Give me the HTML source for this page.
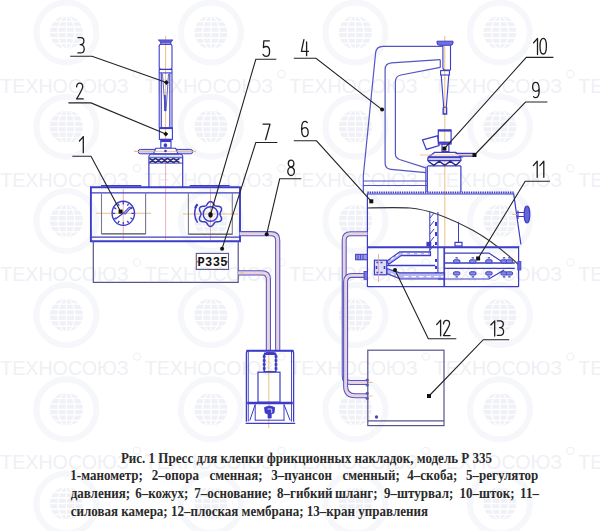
<!DOCTYPE html>
<html><head><meta charset="utf-8">
<style>
html,body{margin:0;padding:0;background:#fff;}
body{width:600px;height:531px;position:relative;overflow:hidden;}
svg{position:absolute;left:0;top:0;}
.w{position:absolute;font-family:"Liberation Serif",serif;font-weight:bold;font-size:13px;color:#2a2a2a;white-space:nowrap;line-height:0;transform:scaleY(1.1);transform-origin:0 0;}
</style></head><body>
<svg width="600" height="531" viewBox="0 0 600 531"><g fill="none"><g><circle cx="66.4" cy="32.5" r="30" stroke="#f6f7fa" stroke-width="6" fill="none"/><circle cx="66.4" cy="32.5" r="16.5" fill="#f0f1f6" stroke="none"/><g stroke="#fff" stroke-width="1.3" fill="none"><ellipse cx="66.4" cy="32.5" rx="8.5" ry="16.5"/><line x1="66.4" y1="15.5" x2="66.4" y2="49.5"/><line x1="49.4" y1="21.5" x2="83.4" y2="21.5"/><line x1="49.4" y1="27.0" x2="83.4" y2="27.0"/><line x1="49.4" y1="32.5" x2="83.4" y2="32.5"/><line x1="49.4" y1="38.0" x2="83.4" y2="38.0"/><line x1="49.4" y1="43.5" x2="83.4" y2="43.5"/></g><text x="0.2" y="92.5" fill="#eff0f5" font-family="Liberation Sans, sans-serif" font-size="20.5" textLength="128.5" lengthAdjust="spacingAndGlyphs">ТЕХНОСОЮЗ</text><circle cx="136.9" cy="74.0" r="3.6" stroke="#eff0f5" stroke-width="1.1" fill="none"/><circle cx="210.9" cy="32.5" r="30" stroke="#f6f7fa" stroke-width="6" fill="none"/><circle cx="210.9" cy="32.5" r="16.5" fill="#f0f1f6" stroke="none"/><g stroke="#fff" stroke-width="1.3" fill="none"><ellipse cx="210.9" cy="32.5" rx="8.5" ry="16.5"/><line x1="210.9" y1="15.5" x2="210.9" y2="49.5"/><line x1="193.9" y1="21.5" x2="227.9" y2="21.5"/><line x1="193.9" y1="27.0" x2="227.9" y2="27.0"/><line x1="193.9" y1="32.5" x2="227.9" y2="32.5"/><line x1="193.9" y1="38.0" x2="227.9" y2="38.0"/><line x1="193.9" y1="43.5" x2="227.9" y2="43.5"/></g><text x="144.7" y="92.5" fill="#eff0f5" font-family="Liberation Sans, sans-serif" font-size="20.5" textLength="128.5" lengthAdjust="spacingAndGlyphs">ТЕХНОСОЮЗ</text><circle cx="281.4" cy="74.0" r="3.6" stroke="#eff0f5" stroke-width="1.1" fill="none"/><circle cx="355.4" cy="32.5" r="30" stroke="#f6f7fa" stroke-width="6" fill="none"/><circle cx="355.4" cy="32.5" r="16.5" fill="#f0f1f6" stroke="none"/><g stroke="#fff" stroke-width="1.3" fill="none"><ellipse cx="355.4" cy="32.5" rx="8.5" ry="16.5"/><line x1="355.4" y1="15.5" x2="355.4" y2="49.5"/><line x1="338.4" y1="21.5" x2="372.4" y2="21.5"/><line x1="338.4" y1="27.0" x2="372.4" y2="27.0"/><line x1="338.4" y1="32.5" x2="372.4" y2="32.5"/><line x1="338.4" y1="38.0" x2="372.4" y2="38.0"/><line x1="338.4" y1="43.5" x2="372.4" y2="43.5"/></g><text x="289.2" y="92.5" fill="#eff0f5" font-family="Liberation Sans, sans-serif" font-size="20.5" textLength="128.5" lengthAdjust="spacingAndGlyphs">ТЕХНОСОЮЗ</text><circle cx="425.9" cy="74.0" r="3.6" stroke="#eff0f5" stroke-width="1.1" fill="none"/><circle cx="499.9" cy="32.5" r="30" stroke="#f6f7fa" stroke-width="6" fill="none"/><circle cx="499.9" cy="32.5" r="16.5" fill="#f0f1f6" stroke="none"/><g stroke="#fff" stroke-width="1.3" fill="none"><ellipse cx="499.9" cy="32.5" rx="8.5" ry="16.5"/><line x1="499.9" y1="15.5" x2="499.9" y2="49.5"/><line x1="482.9" y1="21.5" x2="516.9" y2="21.5"/><line x1="482.9" y1="27.0" x2="516.9" y2="27.0"/><line x1="482.9" y1="32.5" x2="516.9" y2="32.5"/><line x1="482.9" y1="38.0" x2="516.9" y2="38.0"/><line x1="482.9" y1="43.5" x2="516.9" y2="43.5"/></g><text x="433.7" y="92.5" fill="#eff0f5" font-family="Liberation Sans, sans-serif" font-size="20.5" textLength="128.5" lengthAdjust="spacingAndGlyphs">ТЕХНОСОЮЗ</text><circle cx="570.4" cy="74.0" r="3.6" stroke="#eff0f5" stroke-width="1.1" fill="none"/><circle cx="644.4" cy="32.5" r="30" stroke="#f6f7fa" stroke-width="6" fill="none"/><circle cx="644.4" cy="32.5" r="16.5" fill="#f0f1f6" stroke="none"/><g stroke="#fff" stroke-width="1.3" fill="none"><ellipse cx="644.4" cy="32.5" rx="8.5" ry="16.5"/><line x1="644.4" y1="15.5" x2="644.4" y2="49.5"/><line x1="627.4" y1="21.5" x2="661.4" y2="21.5"/><line x1="627.4" y1="27.0" x2="661.4" y2="27.0"/><line x1="627.4" y1="32.5" x2="661.4" y2="32.5"/><line x1="627.4" y1="38.0" x2="661.4" y2="38.0"/><line x1="627.4" y1="43.5" x2="661.4" y2="43.5"/></g><text x="578.2" y="92.5" fill="#eff0f5" font-family="Liberation Sans, sans-serif" font-size="20.5" textLength="128.5" lengthAdjust="spacingAndGlyphs">ТЕХНОСОЮЗ</text><circle cx="714.9" cy="74.0" r="3.6" stroke="#eff0f5" stroke-width="1.1" fill="none"/><circle cx="66.4" cy="126.7" r="30" stroke="#f6f7fa" stroke-width="6" fill="none"/><circle cx="66.4" cy="126.7" r="16.5" fill="#f0f1f6" stroke="none"/><g stroke="#fff" stroke-width="1.3" fill="none"><ellipse cx="66.4" cy="126.7" rx="8.5" ry="16.5"/><line x1="66.4" y1="109.7" x2="66.4" y2="143.7"/><line x1="49.4" y1="115.7" x2="83.4" y2="115.7"/><line x1="49.4" y1="121.2" x2="83.4" y2="121.2"/><line x1="49.4" y1="126.7" x2="83.4" y2="126.7"/><line x1="49.4" y1="132.2" x2="83.4" y2="132.2"/><line x1="49.4" y1="137.7" x2="83.4" y2="137.7"/></g><text x="0.2" y="186.7" fill="#eff0f5" font-family="Liberation Sans, sans-serif" font-size="20.5" textLength="128.5" lengthAdjust="spacingAndGlyphs">ТЕХНОСОЮЗ</text><circle cx="136.9" cy="168.2" r="3.6" stroke="#eff0f5" stroke-width="1.1" fill="none"/><circle cx="210.9" cy="126.7" r="30" stroke="#f6f7fa" stroke-width="6" fill="none"/><circle cx="210.9" cy="126.7" r="16.5" fill="#f0f1f6" stroke="none"/><g stroke="#fff" stroke-width="1.3" fill="none"><ellipse cx="210.9" cy="126.7" rx="8.5" ry="16.5"/><line x1="210.9" y1="109.7" x2="210.9" y2="143.7"/><line x1="193.9" y1="115.7" x2="227.9" y2="115.7"/><line x1="193.9" y1="121.2" x2="227.9" y2="121.2"/><line x1="193.9" y1="126.7" x2="227.9" y2="126.7"/><line x1="193.9" y1="132.2" x2="227.9" y2="132.2"/><line x1="193.9" y1="137.7" x2="227.9" y2="137.7"/></g><text x="144.7" y="186.7" fill="#eff0f5" font-family="Liberation Sans, sans-serif" font-size="20.5" textLength="128.5" lengthAdjust="spacingAndGlyphs">ТЕХНОСОЮЗ</text><circle cx="281.4" cy="168.2" r="3.6" stroke="#eff0f5" stroke-width="1.1" fill="none"/><circle cx="355.4" cy="126.7" r="30" stroke="#f6f7fa" stroke-width="6" fill="none"/><circle cx="355.4" cy="126.7" r="16.5" fill="#f0f1f6" stroke="none"/><g stroke="#fff" stroke-width="1.3" fill="none"><ellipse cx="355.4" cy="126.7" rx="8.5" ry="16.5"/><line x1="355.4" y1="109.7" x2="355.4" y2="143.7"/><line x1="338.4" y1="115.7" x2="372.4" y2="115.7"/><line x1="338.4" y1="121.2" x2="372.4" y2="121.2"/><line x1="338.4" y1="126.7" x2="372.4" y2="126.7"/><line x1="338.4" y1="132.2" x2="372.4" y2="132.2"/><line x1="338.4" y1="137.7" x2="372.4" y2="137.7"/></g><text x="289.2" y="186.7" fill="#eff0f5" font-family="Liberation Sans, sans-serif" font-size="20.5" textLength="128.5" lengthAdjust="spacingAndGlyphs">ТЕХНОСОЮЗ</text><circle cx="425.9" cy="168.2" r="3.6" stroke="#eff0f5" stroke-width="1.1" fill="none"/><circle cx="499.9" cy="126.7" r="30" stroke="#f6f7fa" stroke-width="6" fill="none"/><circle cx="499.9" cy="126.7" r="16.5" fill="#f0f1f6" stroke="none"/><g stroke="#fff" stroke-width="1.3" fill="none"><ellipse cx="499.9" cy="126.7" rx="8.5" ry="16.5"/><line x1="499.9" y1="109.7" x2="499.9" y2="143.7"/><line x1="482.9" y1="115.7" x2="516.9" y2="115.7"/><line x1="482.9" y1="121.2" x2="516.9" y2="121.2"/><line x1="482.9" y1="126.7" x2="516.9" y2="126.7"/><line x1="482.9" y1="132.2" x2="516.9" y2="132.2"/><line x1="482.9" y1="137.7" x2="516.9" y2="137.7"/></g><text x="433.7" y="186.7" fill="#eff0f5" font-family="Liberation Sans, sans-serif" font-size="20.5" textLength="128.5" lengthAdjust="spacingAndGlyphs">ТЕХНОСОЮЗ</text><circle cx="570.4" cy="168.2" r="3.6" stroke="#eff0f5" stroke-width="1.1" fill="none"/><circle cx="644.4" cy="126.7" r="30" stroke="#f6f7fa" stroke-width="6" fill="none"/><circle cx="644.4" cy="126.7" r="16.5" fill="#f0f1f6" stroke="none"/><g stroke="#fff" stroke-width="1.3" fill="none"><ellipse cx="644.4" cy="126.7" rx="8.5" ry="16.5"/><line x1="644.4" y1="109.7" x2="644.4" y2="143.7"/><line x1="627.4" y1="115.7" x2="661.4" y2="115.7"/><line x1="627.4" y1="121.2" x2="661.4" y2="121.2"/><line x1="627.4" y1="126.7" x2="661.4" y2="126.7"/><line x1="627.4" y1="132.2" x2="661.4" y2="132.2"/><line x1="627.4" y1="137.7" x2="661.4" y2="137.7"/></g><text x="578.2" y="186.7" fill="#eff0f5" font-family="Liberation Sans, sans-serif" font-size="20.5" textLength="128.5" lengthAdjust="spacingAndGlyphs">ТЕХНОСОЮЗ</text><circle cx="714.9" cy="168.2" r="3.6" stroke="#eff0f5" stroke-width="1.1" fill="none"/><circle cx="66.4" cy="220.9" r="30" stroke="#f6f7fa" stroke-width="6" fill="none"/><circle cx="66.4" cy="220.9" r="16.5" fill="#f0f1f6" stroke="none"/><g stroke="#fff" stroke-width="1.3" fill="none"><ellipse cx="66.4" cy="220.9" rx="8.5" ry="16.5"/><line x1="66.4" y1="203.9" x2="66.4" y2="237.9"/><line x1="49.4" y1="209.9" x2="83.4" y2="209.9"/><line x1="49.4" y1="215.4" x2="83.4" y2="215.4"/><line x1="49.4" y1="220.9" x2="83.4" y2="220.9"/><line x1="49.4" y1="226.4" x2="83.4" y2="226.4"/><line x1="49.4" y1="231.9" x2="83.4" y2="231.9"/></g><text x="0.2" y="280.9" fill="#eff0f5" font-family="Liberation Sans, sans-serif" font-size="20.5" textLength="128.5" lengthAdjust="spacingAndGlyphs">ТЕХНОСОЮЗ</text><circle cx="136.9" cy="262.4" r="3.6" stroke="#eff0f5" stroke-width="1.1" fill="none"/><circle cx="210.9" cy="220.9" r="30" stroke="#f6f7fa" stroke-width="6" fill="none"/><circle cx="210.9" cy="220.9" r="16.5" fill="#f0f1f6" stroke="none"/><g stroke="#fff" stroke-width="1.3" fill="none"><ellipse cx="210.9" cy="220.9" rx="8.5" ry="16.5"/><line x1="210.9" y1="203.9" x2="210.9" y2="237.9"/><line x1="193.9" y1="209.9" x2="227.9" y2="209.9"/><line x1="193.9" y1="215.4" x2="227.9" y2="215.4"/><line x1="193.9" y1="220.9" x2="227.9" y2="220.9"/><line x1="193.9" y1="226.4" x2="227.9" y2="226.4"/><line x1="193.9" y1="231.9" x2="227.9" y2="231.9"/></g><text x="144.7" y="280.9" fill="#eff0f5" font-family="Liberation Sans, sans-serif" font-size="20.5" textLength="128.5" lengthAdjust="spacingAndGlyphs">ТЕХНОСОЮЗ</text><circle cx="281.4" cy="262.4" r="3.6" stroke="#eff0f5" stroke-width="1.1" fill="none"/><circle cx="355.4" cy="220.9" r="30" stroke="#f6f7fa" stroke-width="6" fill="none"/><circle cx="355.4" cy="220.9" r="16.5" fill="#f0f1f6" stroke="none"/><g stroke="#fff" stroke-width="1.3" fill="none"><ellipse cx="355.4" cy="220.9" rx="8.5" ry="16.5"/><line x1="355.4" y1="203.9" x2="355.4" y2="237.9"/><line x1="338.4" y1="209.9" x2="372.4" y2="209.9"/><line x1="338.4" y1="215.4" x2="372.4" y2="215.4"/><line x1="338.4" y1="220.9" x2="372.4" y2="220.9"/><line x1="338.4" y1="226.4" x2="372.4" y2="226.4"/><line x1="338.4" y1="231.9" x2="372.4" y2="231.9"/></g><text x="289.2" y="280.9" fill="#eff0f5" font-family="Liberation Sans, sans-serif" font-size="20.5" textLength="128.5" lengthAdjust="spacingAndGlyphs">ТЕХНОСОЮЗ</text><circle cx="425.9" cy="262.4" r="3.6" stroke="#eff0f5" stroke-width="1.1" fill="none"/><circle cx="499.9" cy="220.9" r="30" stroke="#f6f7fa" stroke-width="6" fill="none"/><circle cx="499.9" cy="220.9" r="16.5" fill="#f0f1f6" stroke="none"/><g stroke="#fff" stroke-width="1.3" fill="none"><ellipse cx="499.9" cy="220.9" rx="8.5" ry="16.5"/><line x1="499.9" y1="203.9" x2="499.9" y2="237.9"/><line x1="482.9" y1="209.9" x2="516.9" y2="209.9"/><line x1="482.9" y1="215.4" x2="516.9" y2="215.4"/><line x1="482.9" y1="220.9" x2="516.9" y2="220.9"/><line x1="482.9" y1="226.4" x2="516.9" y2="226.4"/><line x1="482.9" y1="231.9" x2="516.9" y2="231.9"/></g><text x="433.7" y="280.9" fill="#eff0f5" font-family="Liberation Sans, sans-serif" font-size="20.5" textLength="128.5" lengthAdjust="spacingAndGlyphs">ТЕХНОСОЮЗ</text><circle cx="570.4" cy="262.4" r="3.6" stroke="#eff0f5" stroke-width="1.1" fill="none"/><circle cx="644.4" cy="220.9" r="30" stroke="#f6f7fa" stroke-width="6" fill="none"/><circle cx="644.4" cy="220.9" r="16.5" fill="#f0f1f6" stroke="none"/><g stroke="#fff" stroke-width="1.3" fill="none"><ellipse cx="644.4" cy="220.9" rx="8.5" ry="16.5"/><line x1="644.4" y1="203.9" x2="644.4" y2="237.9"/><line x1="627.4" y1="209.9" x2="661.4" y2="209.9"/><line x1="627.4" y1="215.4" x2="661.4" y2="215.4"/><line x1="627.4" y1="220.9" x2="661.4" y2="220.9"/><line x1="627.4" y1="226.4" x2="661.4" y2="226.4"/><line x1="627.4" y1="231.9" x2="661.4" y2="231.9"/></g><text x="578.2" y="280.9" fill="#eff0f5" font-family="Liberation Sans, sans-serif" font-size="20.5" textLength="128.5" lengthAdjust="spacingAndGlyphs">ТЕХНОСОЮЗ</text><circle cx="714.9" cy="262.4" r="3.6" stroke="#eff0f5" stroke-width="1.1" fill="none"/><circle cx="66.4" cy="315.1" r="30" stroke="#f6f7fa" stroke-width="6" fill="none"/><circle cx="66.4" cy="315.1" r="16.5" fill="#f0f1f6" stroke="none"/><g stroke="#fff" stroke-width="1.3" fill="none"><ellipse cx="66.4" cy="315.1" rx="8.5" ry="16.5"/><line x1="66.4" y1="298.1" x2="66.4" y2="332.1"/><line x1="49.4" y1="304.1" x2="83.4" y2="304.1"/><line x1="49.4" y1="309.6" x2="83.4" y2="309.6"/><line x1="49.4" y1="315.1" x2="83.4" y2="315.1"/><line x1="49.4" y1="320.6" x2="83.4" y2="320.6"/><line x1="49.4" y1="326.1" x2="83.4" y2="326.1"/></g><text x="0.2" y="375.1" fill="#eff0f5" font-family="Liberation Sans, sans-serif" font-size="20.5" textLength="128.5" lengthAdjust="spacingAndGlyphs">ТЕХНОСОЮЗ</text><circle cx="136.9" cy="356.6" r="3.6" stroke="#eff0f5" stroke-width="1.1" fill="none"/><circle cx="210.9" cy="315.1" r="30" stroke="#f6f7fa" stroke-width="6" fill="none"/><circle cx="210.9" cy="315.1" r="16.5" fill="#f0f1f6" stroke="none"/><g stroke="#fff" stroke-width="1.3" fill="none"><ellipse cx="210.9" cy="315.1" rx="8.5" ry="16.5"/><line x1="210.9" y1="298.1" x2="210.9" y2="332.1"/><line x1="193.9" y1="304.1" x2="227.9" y2="304.1"/><line x1="193.9" y1="309.6" x2="227.9" y2="309.6"/><line x1="193.9" y1="315.1" x2="227.9" y2="315.1"/><line x1="193.9" y1="320.6" x2="227.9" y2="320.6"/><line x1="193.9" y1="326.1" x2="227.9" y2="326.1"/></g><text x="144.7" y="375.1" fill="#eff0f5" font-family="Liberation Sans, sans-serif" font-size="20.5" textLength="128.5" lengthAdjust="spacingAndGlyphs">ТЕХНОСОЮЗ</text><circle cx="281.4" cy="356.6" r="3.6" stroke="#eff0f5" stroke-width="1.1" fill="none"/><circle cx="355.4" cy="315.1" r="30" stroke="#f6f7fa" stroke-width="6" fill="none"/><circle cx="355.4" cy="315.1" r="16.5" fill="#f0f1f6" stroke="none"/><g stroke="#fff" stroke-width="1.3" fill="none"><ellipse cx="355.4" cy="315.1" rx="8.5" ry="16.5"/><line x1="355.4" y1="298.1" x2="355.4" y2="332.1"/><line x1="338.4" y1="304.1" x2="372.4" y2="304.1"/><line x1="338.4" y1="309.6" x2="372.4" y2="309.6"/><line x1="338.4" y1="315.1" x2="372.4" y2="315.1"/><line x1="338.4" y1="320.6" x2="372.4" y2="320.6"/><line x1="338.4" y1="326.1" x2="372.4" y2="326.1"/></g><text x="289.2" y="375.1" fill="#eff0f5" font-family="Liberation Sans, sans-serif" font-size="20.5" textLength="128.5" lengthAdjust="spacingAndGlyphs">ТЕХНОСОЮЗ</text><circle cx="425.9" cy="356.6" r="3.6" stroke="#eff0f5" stroke-width="1.1" fill="none"/><circle cx="499.9" cy="315.1" r="30" stroke="#f6f7fa" stroke-width="6" fill="none"/><circle cx="499.9" cy="315.1" r="16.5" fill="#f0f1f6" stroke="none"/><g stroke="#fff" stroke-width="1.3" fill="none"><ellipse cx="499.9" cy="315.1" rx="8.5" ry="16.5"/><line x1="499.9" y1="298.1" x2="499.9" y2="332.1"/><line x1="482.9" y1="304.1" x2="516.9" y2="304.1"/><line x1="482.9" y1="309.6" x2="516.9" y2="309.6"/><line x1="482.9" y1="315.1" x2="516.9" y2="315.1"/><line x1="482.9" y1="320.6" x2="516.9" y2="320.6"/><line x1="482.9" y1="326.1" x2="516.9" y2="326.1"/></g><text x="433.7" y="375.1" fill="#eff0f5" font-family="Liberation Sans, sans-serif" font-size="20.5" textLength="128.5" lengthAdjust="spacingAndGlyphs">ТЕХНОСОЮЗ</text><circle cx="570.4" cy="356.6" r="3.6" stroke="#eff0f5" stroke-width="1.1" fill="none"/><circle cx="644.4" cy="315.1" r="30" stroke="#f6f7fa" stroke-width="6" fill="none"/><circle cx="644.4" cy="315.1" r="16.5" fill="#f0f1f6" stroke="none"/><g stroke="#fff" stroke-width="1.3" fill="none"><ellipse cx="644.4" cy="315.1" rx="8.5" ry="16.5"/><line x1="644.4" y1="298.1" x2="644.4" y2="332.1"/><line x1="627.4" y1="304.1" x2="661.4" y2="304.1"/><line x1="627.4" y1="309.6" x2="661.4" y2="309.6"/><line x1="627.4" y1="315.1" x2="661.4" y2="315.1"/><line x1="627.4" y1="320.6" x2="661.4" y2="320.6"/><line x1="627.4" y1="326.1" x2="661.4" y2="326.1"/></g><text x="578.2" y="375.1" fill="#eff0f5" font-family="Liberation Sans, sans-serif" font-size="20.5" textLength="128.5" lengthAdjust="spacingAndGlyphs">ТЕХНОСОЮЗ</text><circle cx="714.9" cy="356.6" r="3.6" stroke="#eff0f5" stroke-width="1.1" fill="none"/><circle cx="66.4" cy="409.3" r="30" stroke="#f6f7fa" stroke-width="6" fill="none"/><circle cx="66.4" cy="409.3" r="16.5" fill="#f0f1f6" stroke="none"/><g stroke="#fff" stroke-width="1.3" fill="none"><ellipse cx="66.4" cy="409.3" rx="8.5" ry="16.5"/><line x1="66.4" y1="392.3" x2="66.4" y2="426.3"/><line x1="49.4" y1="398.3" x2="83.4" y2="398.3"/><line x1="49.4" y1="403.8" x2="83.4" y2="403.8"/><line x1="49.4" y1="409.3" x2="83.4" y2="409.3"/><line x1="49.4" y1="414.8" x2="83.4" y2="414.8"/><line x1="49.4" y1="420.3" x2="83.4" y2="420.3"/></g><text x="0.2" y="469.3" fill="#eff0f5" font-family="Liberation Sans, sans-serif" font-size="20.5" textLength="128.5" lengthAdjust="spacingAndGlyphs">ТЕХНОСОЮЗ</text><circle cx="136.9" cy="450.8" r="3.6" stroke="#eff0f5" stroke-width="1.1" fill="none"/><circle cx="210.9" cy="409.3" r="30" stroke="#f6f7fa" stroke-width="6" fill="none"/><circle cx="210.9" cy="409.3" r="16.5" fill="#f0f1f6" stroke="none"/><g stroke="#fff" stroke-width="1.3" fill="none"><ellipse cx="210.9" cy="409.3" rx="8.5" ry="16.5"/><line x1="210.9" y1="392.3" x2="210.9" y2="426.3"/><line x1="193.9" y1="398.3" x2="227.9" y2="398.3"/><line x1="193.9" y1="403.8" x2="227.9" y2="403.8"/><line x1="193.9" y1="409.3" x2="227.9" y2="409.3"/><line x1="193.9" y1="414.8" x2="227.9" y2="414.8"/><line x1="193.9" y1="420.3" x2="227.9" y2="420.3"/></g><text x="144.7" y="469.3" fill="#eff0f5" font-family="Liberation Sans, sans-serif" font-size="20.5" textLength="128.5" lengthAdjust="spacingAndGlyphs">ТЕХНОСОЮЗ</text><circle cx="281.4" cy="450.8" r="3.6" stroke="#eff0f5" stroke-width="1.1" fill="none"/><circle cx="355.4" cy="409.3" r="30" stroke="#f6f7fa" stroke-width="6" fill="none"/><circle cx="355.4" cy="409.3" r="16.5" fill="#f0f1f6" stroke="none"/><g stroke="#fff" stroke-width="1.3" fill="none"><ellipse cx="355.4" cy="409.3" rx="8.5" ry="16.5"/><line x1="355.4" y1="392.3" x2="355.4" y2="426.3"/><line x1="338.4" y1="398.3" x2="372.4" y2="398.3"/><line x1="338.4" y1="403.8" x2="372.4" y2="403.8"/><line x1="338.4" y1="409.3" x2="372.4" y2="409.3"/><line x1="338.4" y1="414.8" x2="372.4" y2="414.8"/><line x1="338.4" y1="420.3" x2="372.4" y2="420.3"/></g><text x="289.2" y="469.3" fill="#eff0f5" font-family="Liberation Sans, sans-serif" font-size="20.5" textLength="128.5" lengthAdjust="spacingAndGlyphs">ТЕХНОСОЮЗ</text><circle cx="425.9" cy="450.8" r="3.6" stroke="#eff0f5" stroke-width="1.1" fill="none"/><circle cx="499.9" cy="409.3" r="30" stroke="#f6f7fa" stroke-width="6" fill="none"/><circle cx="499.9" cy="409.3" r="16.5" fill="#f0f1f6" stroke="none"/><g stroke="#fff" stroke-width="1.3" fill="none"><ellipse cx="499.9" cy="409.3" rx="8.5" ry="16.5"/><line x1="499.9" y1="392.3" x2="499.9" y2="426.3"/><line x1="482.9" y1="398.3" x2="516.9" y2="398.3"/><line x1="482.9" y1="403.8" x2="516.9" y2="403.8"/><line x1="482.9" y1="409.3" x2="516.9" y2="409.3"/><line x1="482.9" y1="414.8" x2="516.9" y2="414.8"/><line x1="482.9" y1="420.3" x2="516.9" y2="420.3"/></g><text x="433.7" y="469.3" fill="#eff0f5" font-family="Liberation Sans, sans-serif" font-size="20.5" textLength="128.5" lengthAdjust="spacingAndGlyphs">ТЕХНОСОЮЗ</text><circle cx="570.4" cy="450.8" r="3.6" stroke="#eff0f5" stroke-width="1.1" fill="none"/><circle cx="644.4" cy="409.3" r="30" stroke="#f6f7fa" stroke-width="6" fill="none"/><circle cx="644.4" cy="409.3" r="16.5" fill="#f0f1f6" stroke="none"/><g stroke="#fff" stroke-width="1.3" fill="none"><ellipse cx="644.4" cy="409.3" rx="8.5" ry="16.5"/><line x1="644.4" y1="392.3" x2="644.4" y2="426.3"/><line x1="627.4" y1="398.3" x2="661.4" y2="398.3"/><line x1="627.4" y1="403.8" x2="661.4" y2="403.8"/><line x1="627.4" y1="409.3" x2="661.4" y2="409.3"/><line x1="627.4" y1="414.8" x2="661.4" y2="414.8"/><line x1="627.4" y1="420.3" x2="661.4" y2="420.3"/></g><text x="578.2" y="469.3" fill="#eff0f5" font-family="Liberation Sans, sans-serif" font-size="20.5" textLength="128.5" lengthAdjust="spacingAndGlyphs">ТЕХНОСОЮЗ</text><circle cx="714.9" cy="450.8" r="3.6" stroke="#eff0f5" stroke-width="1.1" fill="none"/><circle cx="66.4" cy="503.5" r="30" stroke="#f6f7fa" stroke-width="6" fill="none"/><circle cx="66.4" cy="503.5" r="16.5" fill="#f0f1f6" stroke="none"/><g stroke="#fff" stroke-width="1.3" fill="none"><ellipse cx="66.4" cy="503.5" rx="8.5" ry="16.5"/><line x1="66.4" y1="486.5" x2="66.4" y2="520.5"/><line x1="49.4" y1="492.5" x2="83.4" y2="492.5"/><line x1="49.4" y1="498.0" x2="83.4" y2="498.0"/><line x1="49.4" y1="503.5" x2="83.4" y2="503.5"/><line x1="49.4" y1="509.0" x2="83.4" y2="509.0"/><line x1="49.4" y1="514.5" x2="83.4" y2="514.5"/></g><text x="0.2" y="563.5" fill="#eff0f5" font-family="Liberation Sans, sans-serif" font-size="20.5" textLength="128.5" lengthAdjust="spacingAndGlyphs">ТЕХНОСОЮЗ</text><circle cx="136.9" cy="545.0" r="3.6" stroke="#eff0f5" stroke-width="1.1" fill="none"/><circle cx="210.9" cy="503.5" r="30" stroke="#f6f7fa" stroke-width="6" fill="none"/><circle cx="210.9" cy="503.5" r="16.5" fill="#f0f1f6" stroke="none"/><g stroke="#fff" stroke-width="1.3" fill="none"><ellipse cx="210.9" cy="503.5" rx="8.5" ry="16.5"/><line x1="210.9" y1="486.5" x2="210.9" y2="520.5"/><line x1="193.9" y1="492.5" x2="227.9" y2="492.5"/><line x1="193.9" y1="498.0" x2="227.9" y2="498.0"/><line x1="193.9" y1="503.5" x2="227.9" y2="503.5"/><line x1="193.9" y1="509.0" x2="227.9" y2="509.0"/><line x1="193.9" y1="514.5" x2="227.9" y2="514.5"/></g><text x="144.7" y="563.5" fill="#eff0f5" font-family="Liberation Sans, sans-serif" font-size="20.5" textLength="128.5" lengthAdjust="spacingAndGlyphs">ТЕХНОСОЮЗ</text><circle cx="281.4" cy="545.0" r="3.6" stroke="#eff0f5" stroke-width="1.1" fill="none"/><circle cx="355.4" cy="503.5" r="30" stroke="#f6f7fa" stroke-width="6" fill="none"/><circle cx="355.4" cy="503.5" r="16.5" fill="#f0f1f6" stroke="none"/><g stroke="#fff" stroke-width="1.3" fill="none"><ellipse cx="355.4" cy="503.5" rx="8.5" ry="16.5"/><line x1="355.4" y1="486.5" x2="355.4" y2="520.5"/><line x1="338.4" y1="492.5" x2="372.4" y2="492.5"/><line x1="338.4" y1="498.0" x2="372.4" y2="498.0"/><line x1="338.4" y1="503.5" x2="372.4" y2="503.5"/><line x1="338.4" y1="509.0" x2="372.4" y2="509.0"/><line x1="338.4" y1="514.5" x2="372.4" y2="514.5"/></g><text x="289.2" y="563.5" fill="#eff0f5" font-family="Liberation Sans, sans-serif" font-size="20.5" textLength="128.5" lengthAdjust="spacingAndGlyphs">ТЕХНОСОЮЗ</text><circle cx="425.9" cy="545.0" r="3.6" stroke="#eff0f5" stroke-width="1.1" fill="none"/><circle cx="499.9" cy="503.5" r="30" stroke="#f6f7fa" stroke-width="6" fill="none"/><circle cx="499.9" cy="503.5" r="16.5" fill="#f0f1f6" stroke="none"/><g stroke="#fff" stroke-width="1.3" fill="none"><ellipse cx="499.9" cy="503.5" rx="8.5" ry="16.5"/><line x1="499.9" y1="486.5" x2="499.9" y2="520.5"/><line x1="482.9" y1="492.5" x2="516.9" y2="492.5"/><line x1="482.9" y1="498.0" x2="516.9" y2="498.0"/><line x1="482.9" y1="503.5" x2="516.9" y2="503.5"/><line x1="482.9" y1="509.0" x2="516.9" y2="509.0"/><line x1="482.9" y1="514.5" x2="516.9" y2="514.5"/></g><text x="433.7" y="563.5" fill="#eff0f5" font-family="Liberation Sans, sans-serif" font-size="20.5" textLength="128.5" lengthAdjust="spacingAndGlyphs">ТЕХНОСОЮЗ</text><circle cx="570.4" cy="545.0" r="3.6" stroke="#eff0f5" stroke-width="1.1" fill="none"/><circle cx="644.4" cy="503.5" r="30" stroke="#f6f7fa" stroke-width="6" fill="none"/><circle cx="644.4" cy="503.5" r="16.5" fill="#f0f1f6" stroke="none"/><g stroke="#fff" stroke-width="1.3" fill="none"><ellipse cx="644.4" cy="503.5" rx="8.5" ry="16.5"/><line x1="644.4" y1="486.5" x2="644.4" y2="520.5"/><line x1="627.4" y1="492.5" x2="661.4" y2="492.5"/><line x1="627.4" y1="498.0" x2="661.4" y2="498.0"/><line x1="627.4" y1="503.5" x2="661.4" y2="503.5"/><line x1="627.4" y1="509.0" x2="661.4" y2="509.0"/><line x1="627.4" y1="514.5" x2="661.4" y2="514.5"/></g><text x="578.2" y="563.5" fill="#eff0f5" font-family="Liberation Sans, sans-serif" font-size="20.5" textLength="128.5" lengthAdjust="spacingAndGlyphs">ТЕХНОСОЮЗ</text><circle cx="714.9" cy="545.0" r="3.6" stroke="#eff0f5" stroke-width="1.1" fill="none"/></g><g stroke="#eab878" stroke-width="0.9"><line x1="165.6" y1="36" x2="165.6" y2="140"/><line x1="134" y1="151.2" x2="196" y2="151.2"/><line x1="96" y1="213.3" x2="151" y2="213.3"/><line x1="183" y1="214" x2="238" y2="214"/><line x1="268.8" y1="280" x2="268.8" y2="428"/></g><g stroke="#e2a0a0" stroke-width="0.8"><line x1="165.6" y1="155" x2="165.6" y2="240"/><line x1="123.3" y1="189" x2="123.3" y2="240"/><line x1="210.5" y1="189" x2="210.5" y2="240"/></g><g stroke="#3c3cc8" stroke-width="1.1"><rect x="159.2" y="44.2" width="12.8" height="25" rx="2"/><line x1="159.2" y1="69.5" x2="172" y2="69.5"/><line x1="159.2" y1="72.9" x2="172" y2="72.9"/><line x1="159.2" y1="69" x2="159.2" y2="127.5"/><line x1="172" y1="69" x2="172" y2="127.5"/><line x1="161.3" y1="73" x2="161.3" y2="127.5" stroke="#5454c4" stroke-width="1.3"/><line x1="169.8" y1="73" x2="169.8" y2="127.5" stroke="#5454c4" stroke-width="1.3"/><path d="M162.5 74 L165.2 111 L166 111 L168.5 74" stroke="#5454c4" stroke-width="0.9"/><path d="M165 95 V111" stroke="#3c3cc8" stroke-width="1.6"/><rect x="160.8" y="41.8" width="10" height="2.4"/></g><path d="M158.4 40 H172.8 L170.5 42.2 H160.8 Z" fill="#6c6ce0" stroke="#3c3cc8" stroke-width="1"/><g stroke="#3c3cc8" stroke-width="1.1"><rect x="159.4" y="127.8" width="13" height="11.6"/><line x1="159.4" y1="128.2" x2="172.4" y2="128.2" stroke-width="1.8"/><rect x="160.8" y="139.4" width="10.2" height="8.6"/><line x1="160.8" y1="141" x2="171" y2="141" stroke-width="2.2"/><circle cx="165.4" cy="145.2" r="1.3" fill="#3c3cc8"/></g><rect x="138.2" y="149.4" width="54.5" height="4.4" rx="2.2" fill="#d4d4f2" stroke="#3c3cc8" stroke-width="1"/><line x1="134" y1="151.6" x2="196" y2="151.6" stroke="#eab878" stroke-width="0.8"/><path d="M155.8 148.3 H175.6 L178 153.9 H153.5 Z" fill="#fff" stroke="#3c3cc8" stroke-width="1.1"/><line x1="154" y1="151.3" x2="177.5" y2="151.3" stroke="#eab878" stroke-width="0.8"/><circle cx="165.5" cy="151" r="1.3" fill="#3c3cc8"/><g stroke="#3c3cc8" stroke-width="1.2"><path d="M148.9 187 V157 Q148.9 154 152 154 H179.5 Q182.7 154 182.7 157 V187"/><rect x="149.5" y="155.6" width="32.6" height="1.8" fill="#c4d4f4" stroke="none"/><line x1="149" y1="157.8" x2="182.7" y2="157.8" stroke-width="1"/><line x1="149" y1="163.1" x2="182.7" y2="163.1" stroke-width="1"/></g><path d="M149.5 158.3 L155.5 162.6 M155.5 158.3 L149.5 162.6 M155.5 158.3 L161.5 162.6 M161.5 158.3 L155.5 162.6 M161.5 158.3 L167.5 162.6 M167.5 158.3 L161.5 162.6 M167.5 158.3 L173.5 162.6 M173.5 158.3 L167.5 162.6 M173.5 158.3 L179.5 162.6 M179.5 158.3 L173.5 162.6" stroke="#2a2a70" stroke-width="1.5"/><g stroke="#3c3cc8"><path d="M90.9 241.2 V187.2 H240 V241.2 Z" stroke-width="1.9"/><line x1="91" y1="192.9" x2="240" y2="192.9" stroke-width="1.3"/><line x1="91" y1="237.1" x2="240" y2="237.1" stroke-width="1.2"/><line x1="101" y1="185.7" x2="141.3" y2="185.7" stroke-width="1.2"/><line x1="189.7" y1="185.7" x2="229.7" y2="185.7" stroke-width="1.2"/></g><g stroke="#7a7a90" stroke-width="1.1"><path d="M101.5 193.3 V233.8 H145.6 V193.3"/><path d="M188.4 193.3 V234.3 H232.3 V193.3"/></g><line x1="101.5" y1="233.8" x2="145.6" y2="233.8" stroke="#777" stroke-width="1.6"/><line x1="188.4" y1="234.3" x2="232.3" y2="234.3" stroke="#777" stroke-width="1.6"/><g stroke="#3c3cc8"><ellipse cx="123.3" cy="213.3" rx="11.2" ry="12.1" stroke-width="1.4"/><path d="M123.30 204.50 L123.30 202.00 M127.40 205.68 L128.60 203.51 M130.40 208.90 L132.48 207.65 M131.50 213.30 L133.90 213.30 M130.40 217.70 L132.48 218.95 M127.40 220.92 L128.60 223.09 M123.30 222.10 L123.30 224.60 M119.20 220.92 L118.00 223.09 M116.20 217.70 L114.12 218.95 M115.10 213.30 L112.70 213.30 M116.20 208.90 L114.12 207.65 M119.20 205.68 L118.00 203.51" stroke-width="1.25"/><path d="M115.2 219.2 L123.5 213" stroke-width="1.3"/><path d="M123.5 213 L129 207.2 L131.6 207.3 L125.2 214.3 Z" stroke-width="1" fill="#9a9ae6"/></g><g stroke="#3c3cc8"><path d="M210.50 201.60 L211.30 201.74 L212.06 202.14 L212.74 202.75 L213.32 203.47 L213.82 204.22 L214.27 204.91 L214.71 205.47 L215.20 205.86 L215.79 206.09 L216.49 206.19 L217.31 206.24 L218.21 206.29 L219.13 206.43 L219.99 206.72 L220.72 207.17 L221.24 207.80 L221.52 208.57 L221.55 209.42 L221.37 210.31 L221.03 211.18 L220.63 211.99 L220.26 212.72 L219.99 213.38 L219.90 214.00 L219.99 214.62 L220.26 215.28 L220.63 216.01 L221.03 216.82 L221.37 217.69 L221.55 218.58 L221.52 219.43 L221.24 220.20 L220.72 220.83 L219.99 221.28 L219.13 221.57 L218.21 221.71 L217.31 221.76 L216.49 221.81 L215.79 221.91 L215.20 222.14 L214.71 222.53 L214.27 223.09 L213.82 223.78 L213.32 224.53 L212.74 225.25 L212.06 225.86 L211.30 226.26 L210.50 226.40 L209.70 226.26 L208.94 225.86 L208.26 225.25 L207.68 224.53 L207.18 223.78 L206.73 223.09 L206.29 222.53 L205.80 222.14 L205.21 221.91 L204.51 221.81 L203.69 221.76 L202.79 221.71 L201.87 221.57 L201.01 221.28 L200.28 220.83 L199.76 220.20 L199.48 219.43 L199.45 218.58 L199.63 217.69 L199.97 216.82 L200.37 216.01 L200.74 215.28 L201.01 214.62 L201.10 214.00 L201.01 213.38 L200.74 212.72 L200.37 211.99 L199.97 211.18 L199.63 210.31 L199.45 209.42 L199.48 208.57 L199.76 207.80 L200.28 207.17 L201.01 206.72 L201.87 206.43 L202.79 206.29 L203.69 206.24 L204.51 206.19 L205.21 206.09 L205.80 205.86 L206.29 205.47 L206.73 204.91 L207.18 204.22 L207.68 203.47 L208.26 202.75 L208.94 202.14 L209.70 201.74Z" stroke-width="1.5"/><circle cx="210.5" cy="214" r="7.3" stroke-width="1.5"/><path d="M197.2 204.6 C193.6 210 193.8 217.5 197.6 222.6" stroke-width="1.5"/><path d="M197.6 204.3 C196.4 205.5 195.7 206.8 195.2 208.2" stroke-width="2.3"/></g><path d="M93.3 241.2 V282.4 H238.2 V241.2" stroke="#55558c" stroke-width="1.2"/><rect x="196.3" y="253.4" width="32.2" height="16" stroke="#5a5a8a" stroke-width="1.1"/><path d="M197 261.7 H199.5 M226 261.7 H228" stroke="#e09090" stroke-width="2"/><text x="212.7" y="265.8" font-family="Liberation Mono, monospace" font-weight="bold" font-size="12" fill="#111" text-anchor="middle" letter-spacing="0.4">P335</text><path d="M239.6 233.7 H271 Q277.7 233.7 277.7 240.4 V351" stroke="#5454c4" stroke-width="5.2"/><path d="M239.6 233.7 H271 Q277.7 233.7 277.7 240.4 V351" stroke="#e9d3dd" stroke-width="3.1"/><path d="M238.2 272.9 H262 Q268.4 272.9 268.4 279.3 V351" stroke="#5454c4" stroke-width="5.2"/><path d="M238.2 272.9 H262 Q268.4 272.9 268.4 279.3 V351" stroke="#e9d3dd" stroke-width="3.1"/><path d="M240 272.9 H244" stroke="#eab878" stroke-width="0.9"/><g stroke="#3c3cc8" stroke-width="1.2"><path d="M246.4 421.8 V353 Q246.4 350.6 249 350.6 H291 Q293.6 350.6 293.6 353 V421.8" stroke-width="1.3"/><line x1="246.4" y1="350.8" x2="293.6" y2="350.8" stroke-width="1.9"/><line x1="248.3" y1="351" x2="248.3" y2="421.5" stroke-width="0.9"/><line x1="291.5" y1="351" x2="291.5" y2="421.5" stroke-width="0.9"/><rect x="258" y="372.2" width="22" height="30"/><path d="M264.4 353 V371.8 M275.8 353 V371.8 M266 352.6 H274.5" stroke-width="1"/></g><rect x="264" y="354.5" width="12" height="17" stroke="#3c3cc8" stroke-width="1" fill="none"/><path d="M262.8 356.5 h2.8 M262.8 360.5 h2.8 M262.8 364.5 h2.8 M262.8 368.5 h2.8 M274.6 356.5 h2.8 M274.6 360.5 h2.8 M274.6 364.5 h2.8 M274.6 368.5 h2.8" stroke="#3c3cc8" stroke-width="2.6"/><path d="M264 353.5 H276" stroke="#3c3cc8" stroke-width="2"/><line x1="247.2" y1="403" x2="292.8" y2="403" stroke="#3c3cc8" stroke-width="2.6"/><g stroke="#3c3cc8" stroke-width="1"><path d="M249.8 420.5 L255.2 404.5 M255.2 404.5 V420.5 M290.2 420.5 L284 404.5 M284 404.5 V420.5"/><line x1="255" y1="420.2" x2="284.5" y2="420.2"/><line x1="245.6" y1="423.4" x2="295.2" y2="423.4" stroke-width="1.2"/></g><path d="M264.5 407.5 Q269.6 404.5 274.7 407.5 L274 413 L271.2 414 V418 H268 V414 L265.2 413 Z" fill="#3c3cc8" stroke="#3c3cc8" stroke-width="0.8"/><path d="M267.5 409 H271.7 V413" stroke="#fff" stroke-width="0.8"/><line x1="444.8" y1="36" x2="444.8" y2="287" stroke="#eab878" stroke-width="0.9"/><g stroke="#5454c4" stroke-width="1.2"><path d="M442.9 46.4 H383 Q376.2 46.4 375.6 53 L363.3 176 V193"/><path d="M440.3 59.7 L391.5 62.8 Q385.1 63.3 385.1 69.5 V163 Q385.1 169 391 169.3 L425.8 172.7"/><path d="M440.3 67.4 L401 75 Q395.4 76 395.4 82 V154 Q395.4 158 399.5 159.5 L425.8 167.9"/><path d="M440.3 59.7 V67.4"/><line x1="425.8" y1="166.7" x2="425.8" y2="192"/><line x1="363.3" y1="181" x2="427" y2="181"/><line x1="363.3" y1="185.5" x2="427" y2="185.5"/></g><g stroke="#3c3cc8" stroke-width="1.1"><path d="M442.9 45.3 V67.5 Q442.9 70 445 70 H450.5 V45.3"/><rect x="440.6" y="70.6" width="8.8" height="4.4"/><path d="M441.2 75 L443.7 107.2 H446.3 L448.8 75"/><path d="M443.2 107.2 V114 H446.6 V107.2" stroke-width="1.4"/></g><path d="M437 41.2 H453 V43 Q453 45.3 450 45.3 H440 Q437 45.3 437 43 Z" fill="#7070e0" stroke="#3c3cc8" stroke-width="1"/><g stroke="#3c3cc8" stroke-width="1.2"><rect x="438.3" y="130" width="12.8" height="14"/><line x1="438.3" y1="130.6" x2="451.1" y2="130.6" stroke-width="2"/><line x1="438.3" y1="142.6" x2="451.1" y2="142.6" stroke-width="2"/><path d="M422.5 139.8 L437.6 135.8 L439.1 145.6 L426.3 149.4 Z"/><rect x="442" y="144.1" width="6.9" height="7.5"/><path d="M434.6 152.4 H455.6 L461.7 156.9 H428.5 Z" fill="#fff"/><path d="M455.6 153.3 H474.5 V156.1 H459" fill="#d8d8f4"/><path d="M427.8 160.7 V158.8 Q427.8 157.4 429.5 157.4 H459.2 Q460.9 157.4 460.9 158.8 V160.7 Z" fill="#c8c8f0"/><line x1="427.8" y1="165.9" x2="460.9" y2="165.9"/><line x1="427.3" y1="165.9" x2="427.3" y2="192"/><line x1="460.9" y1="165.9" x2="460.9" y2="192"/></g><line x1="420" y1="155" x2="476" y2="155" stroke="#eab878" stroke-width="0.8"/><path d="M428.3 161.2 L433.8 165.3 L439.3 161.2 L444.8 165.3 L450.3 161.2 L455.8 165.3 L460.4 161.2" stroke="#2a2a80" stroke-width="1.4"/><g stroke="#3c3cc8" stroke-width="1.2"><path d="M367.4 287 V193.3"/><path d="M513.6 193.3 L520.9 244.5"/><line x1="367.4" y1="194" x2="513.6" y2="194" stroke-width="1"/></g><line x1="367.4" y1="192.6" x2="513.6" y2="192.6" stroke="#3c3cc8" stroke-width="2" stroke-dasharray="1.4 0.9"/><path d="M367.4 208 C385 207.6 398 207.2 410 208 C430 209.5 450 218 473.7 230.8 C490 240 505 252 519 265" stroke="#333" stroke-width="1.1"/><g stroke="#3c3cc8" stroke-width="1.2"><line x1="367.4" y1="247.2" x2="518.6" y2="247.2" stroke-width="2"/><line x1="518.6" y1="246" x2="518.6" y2="287"/><line x1="367.4" y1="286.6" x2="518.6" y2="286.6"/></g><g stroke="#3c3cc8" stroke-width="1.1"><path d="M429.8 212 V256 M437.9 212 V278 M444.2 247 V286"/><path d="M430 218 L434 213 M430 226 L434 221 M430 234 L434 229 M430 242 L434 237 M430 250 L434 245" stroke-width="1"/><rect x="427" y="242.4" width="3.7" height="3.6" fill="#3c3cc8"/></g><path d="M436 222 v4 M436 232 v4 M436 242 v3 M436 259 v3 M436 266 v3 M436 272 v3" stroke="#3c3cc8" stroke-width="2"/><path d="M386.7 261.2 L399.8 251.8 H430.5 V255.6 H401.2 L388.5 264.4 Z" fill="#b8b8ee" stroke="#3c3cc8" stroke-width="1.2"/><path d="M386.7 268.5 L399.8 272.8 H444.5 V279 H400.5 L386.7 273.5 Z" fill="#b8b8ee" stroke="#3c3cc8" stroke-width="1.2"/><path d="M403 253.7 h4 M410 253.7 h4 M417 253.7 h4 M424 253.7 h4 M404 276.6 h4.5 M411.5 276.6 h4.5 M419 276.6 h4.5 M426.5 276.6 h4.5 M434 276.6 h4.5 M441 276.6 h3" stroke="#fff" stroke-width="1.3"/><path d="M391 259.5 l3 -2.2 M396 256.2 l2.5 -1.8 M391 273.5 l3 1.2 M396 275.6 l2.5 1" stroke="#fff" stroke-width="1.1"/><line x1="386.7" y1="265.5" x2="435.2" y2="265.5" stroke="#3c3cc8" stroke-width="1.6"/><g stroke="#3c3cc8" stroke-width="1.2"><rect x="374.4" y="260.2" width="12.3" height="14.6" fill="#dcdcf6"/><path d="M376.5 262.5 h2 M380.5 262.5 h2 M376.5 272.5 h2 M380.5 272.5 h2 M376.5 266 v3 M384.5 266 v3" stroke-width="1.6"/></g><line x1="378.5" y1="254" x2="378.5" y2="282" stroke="#e2a0a0" stroke-width="0.8"/><g stroke="#3c3cc8" stroke-width="1.2"><path d="M445 253.1 H488.9 L504 263"/><path d="M437.9 279 H488.9 L504 270"/><line x1="444" y1="263" x2="514.8" y2="263" stroke-width="1.3"/><line x1="444" y1="268.3" x2="514.8" y2="268.3" stroke-width="1.3"/><line x1="444.2" y1="248" x2="444.2" y2="286"/><line x1="458.5" y1="221.8" x2="458.5" y2="242.4" stroke-width="1"/><rect x="455" y="242.4" width="7" height="3.6"/></g><g fill="#8c8ce0" stroke="#3c3cc8" stroke-width="1"><rect x="453.5" y="259.8" width="6.4" height="3.2" rx="1.2"/><rect x="453.5" y="271.8" width="6.4" height="3.2" rx="1.2"/><path d="M455.5 257.8 h2.4 M455.5 276.8 h2.4" stroke-width="1.2"/><rect x="469.6" y="259.8" width="6.4" height="3.2" rx="1.2"/><rect x="469.6" y="271.8" width="6.4" height="3.2" rx="1.2"/><path d="M471.6 257.8 h2.4 M471.6 276.8 h2.4" stroke-width="1.2"/><rect x="485.7" y="259.8" width="6.4" height="3.2" rx="1.2"/><rect x="485.7" y="271.8" width="6.4" height="3.2" rx="1.2"/><path d="M487.7 257.8 h2.4 M487.7 276.8 h2.4" stroke-width="1.2"/><rect x="500.9" y="259.8" width="6.4" height="3.2" rx="1.2"/><rect x="500.9" y="271.8" width="6.4" height="3.2" rx="1.2"/><path d="M502.9 257.8 h2.4 M502.9 276.8 h2.4" stroke-width="1.2"/><rect x="506.2" y="259.8" width="6.4" height="3.2" rx="1.2"/><rect x="506.2" y="271.8" width="6.4" height="3.2" rx="1.2"/><path d="M508.2 257.8 h2.4 M508.2 276.8 h2.4" stroke-width="1.2"/></g><rect x="517.8" y="261.6" width="3.1" height="8.4" fill="#6a6ad8" stroke="#3c3cc8" stroke-width="0.8"/><g stroke="#3c3cc8" stroke-width="1.2"><path d="M516.7 212.5 H524 M516.7 216.5 H524 M518 210.5 V219"/><ellipse cx="527" cy="214.5" rx="2.8" ry="8.5" fill="#6666d8"/></g><line x1="512" y1="214.5" x2="517" y2="214.5" stroke="#eab878" stroke-width="0.8"/><rect x="355.6" y="254.3" width="11.8" height="5.5" fill="#9999e0" stroke="#3c3cc8" stroke-width="1"/><path d="M358 254.3 v5.5 M360.5 254.3 v5.5 M363 254.3 v5.5" stroke="#3c3cc8" stroke-width="0.8"/><path d="M367.4 233.7 H350.5 Q344.2 233.7 344.2 240 V376 Q344.2 382.5 350.7 382.5 H367.8" stroke="#5454c4" stroke-width="5.0"/><path d="M367.4 233.7 H350.5 Q344.2 233.7 344.2 240 V376 Q344.2 382.5 350.7 382.5 H367.8" stroke="#e9d3dd" stroke-width="2.9"/><path d="M367.4 275.4 H352 Q345.6 275.4 345.6 282 V386 Q345.6 395.8 355 395.8 H367.8" stroke="#5454c4" stroke-width="5.0"/><path d="M367.4 275.4 H352 Q345.6 275.4 345.6 282 V386 Q345.6 395.8 355 395.8 H367.8" stroke="#e9d3dd" stroke-width="2.9"/><rect x="364" y="271.5" width="3.4" height="7.8" fill="#7777dd" stroke="#3c3cc8" stroke-width="0.8"/><g fill="#5a5ad0"><circle cx="367.2" cy="380" r="1.6"/><circle cx="367.2" cy="385" r="1.6"/><circle cx="367.2" cy="393.3" r="1.6"/><circle cx="367.2" cy="398.3" r="1.6"/></g><path d="M368 382.5 H372.5 M368 396 H372.5" stroke="#eab878" stroke-width="0.9"/><g stroke="#55558c" stroke-width="1.2"><rect x="367.8" y="350.2" width="76.2" height="75.4"/><line x1="367.8" y1="420.8" x2="444" y2="420.8"/></g><circle cx="376.5" cy="417" r="1.7" fill="#4848c0"/><g stroke="#222" stroke-width="1.1"><path d="M70.2 56.3 H92 L166.4 82.5"/><path d="M68.4 102.9 H91 L165.8 134"/><path d="M72.3 156.3 H91 L120.6 211.6"/><path d="M276.3 59.3 H255.8 L210.5 214.5"/><path d="M293.8 58.3 H316 L382.1 109.6"/><path d="M277.4 142.5 H255.8 L222.1 248.7"/><path d="M293.8 140.8 H316.5 L371.3 201.3"/><path d="M301.3 178.8 H279.7 L266.7 234.2"/><path d="M553.4 57.4 H526.3 L444.4 148.6"/><path d="M547.4 102 H525.5 L474.5 155"/><path d="M550 181.3 H525.2 L478.1 258.5"/><path d="M456.3 338.7 H428.3 L395 270"/><path d="M509.2 339.7 H483.3 L429 396"/></g><g fill="#111"><path d="M166.4 79.9 L168.8 82.5 L166.4 85.1 L164.0 82.5 Z"/><path d="M165.8 131.4 L168.20000000000002 134 L165.8 136.6 L163.4 134 Z"/><rect x="118.6" y="209.6" width="4" height="4"/><ellipse cx="210.5" cy="214.8" rx="2.2" ry="2.8"/><circle cx="382.1" cy="109.6" r="2"/><circle cx="222.1" cy="248.7" r="2"/><rect x="369.3" y="199.3" width="4" height="4"/><circle cx="266.7" cy="234.2" r="2"/><rect x="442.4" y="146.6" width="4" height="4"/><rect x="472.5" y="153" width="4" height="4"/><rect x="476.1" y="256.5" width="4" height="4"/><circle cx="395" cy="270" r="2"/><rect x="427" y="394" width="4" height="4"/></g><g fill="none" stroke="#1e1e1e" stroke-width="1.3" stroke-linecap="round" stroke-linejoin="round">
<g transform="translate(77.6 37.2) scale(1 1.0)"><path d="M0.3 0.4 H3.2 C5.2 0.4 6.3 1.9 6.3 3.9 C6.3 6.1 5 7.5 2.6 7.5 C5.1 7.5 6.6 9.1 6.6 11.7 C6.6 14.3 5 15.7 3 15.7 H0.3"/></g>
<g transform="translate(76.3 83.1) scale(1 1.0)"><path d="M0.3 3.8 C0.5 1.3 1.8 0.1 3.4 0.1 C5.1 0.1 6.4 1.4 6.4 3.7 C6.4 5.9 5.2 7.6 0.3 15.8 H6.9"/></g>
<g transform="translate(79.2 136.4) scale(1 1.0)"><path d="M0.2 4.6 L4.1 0.2 V16.3"/></g>
<g transform="translate(262.7 40.5) scale(1 1.0)"><path d="M6.6 0.4 H1.1 L0.7 7.1 C1.6 6.3 2.5 6 3.5 6 C5.6 6 6.9 7.9 6.9 10.9 C6.9 14 5.4 15.8 3.3 15.8 C2 15.8 1 15.1 0.3 13.9"/></g>
<g transform="translate(301.2 39.7) scale(1 1.0)"><path d="M5.4 2.2 V16 M2.7 0 L0.2 11.7 H7.2"/></g>
<g transform="translate(263.0 123.7) scale(1 1.0)"><path d="M0 0.4 H7 L2.6 16"/></g>
<g transform="translate(301.3 121.3) scale(1 0.97)"><path d="M6 1.3 C5.3 0.5 4.5 0.2 3.6 0.2 C1.4 0.2 0.3 3.1 0.3 8 C0.3 13 1.5 15.8 3.6 15.8 C5.7 15.8 6.9 13.8 6.9 11.1 C6.9 8.4 5.6 6.6 3.6 6.6 C2 6.6 0.9 7.6 0.3 9.1"/></g>
<g transform="translate(287.5 159.8) scale(1 1.0)"><ellipse cx="3.6" cy="3.7" rx="2.8" ry="3.4"/><ellipse cx="3.6" cy="11.6" rx="3.3" ry="4.1"/></g>
<g transform="translate(533.4 38.2) scale(1 1.0)"><path d="M0.2 4.6 L4.1 0.2 V16.3"/></g>
<g transform="translate(539.6 38.2) scale(1 1.0)"><path d="M3.6 0.2 C1.4 0.2 0.4 3.2 0.4 8 C0.4 12.8 1.4 15.8 3.6 15.8 C5.8 15.8 6.8 12.8 6.8 8 C6.8 3.2 5.8 0.2 3.6 0.2 Z"/></g>
<g transform="translate(532.3 82.2) scale(1 0.98)"><path transform="rotate(180 3.6 8)" d="M6 1.3 C5.3 0.5 4.5 0.2 3.6 0.2 C1.4 0.2 0.3 3.1 0.3 8 C0.3 13 1.5 15.8 3.6 15.8 C5.7 15.8 6.9 13.8 6.9 11.1 C6.9 8.4 5.6 6.6 3.6 6.6 C2 6.6 0.9 7.6 0.3 9.1"/></g>
<g transform="translate(533.1 161.0) scale(1 1.0)"><path d="M0.2 4.6 L4.1 0.2 V16.3"/></g>
<g transform="translate(539.7 161.0) scale(1 1.0)"><path d="M0.2 4.6 L4.1 0.2 V16.3"/></g>
<g transform="translate(436.5 320.0) scale(1 0.97)"><path d="M0.2 4.6 L4.1 0.2 V16.3"/></g>
<g transform="translate(443.2 320.2) scale(1 0.97)"><path d="M0.3 3.8 C0.5 1.3 1.8 0.1 3.4 0.1 C5.1 0.1 6.4 1.4 6.4 3.7 C6.4 5.9 5.2 7.6 0.3 15.8 H6.9"/></g>
<g transform="translate(490.6 320.6) scale(1 0.95)"><path d="M0.2 4.6 L4.1 0.2 V16.3"/></g>
<g transform="translate(497.0 320.4) scale(1 0.95)"><path d="M0.3 0.4 H3.2 C5.2 0.4 6.3 1.9 6.3 3.9 C6.3 6.1 5 7.5 2.6 7.5 C5.1 7.5 6.6 9.1 6.6 11.7 C6.6 14.3 5 15.7 3 15.7 H0.3"/></g>
</g>
</g></svg>
<span class="w" style="left:120.9px;top:459.0px">Рис. 1 Пресс для клепки фрикционных накладок, модель Р 335</span>
<span class="w" style="left:70.3px;top:475.8px">1-манометр;</span>
<span class="w" style="left:151.7px;top:475.8px">2–опора</span>
<span class="w" style="left:209.4px;top:475.8px">сменная;</span>
<span class="w" style="left:271.3px;top:475.8px">3–пуансон</span>
<span class="w" style="left:342.4px;top:475.8px">сменный;</span>
<span class="w" style="left:407.3px;top:475.8px">4–скоба;</span>
<span class="w" style="left:466.0px;top:475.8px">5–регулятор</span>
<span class="w" style="left:70.7px;top:493.5px">давления;</span>
<span class="w" style="left:135.2px;top:493.5px">6–кожух;</span>
<span class="w" style="left:194.3px;top:493.5px">7–основание;</span>
<span class="w" style="left:277.1px;top:493.5px">8–гибкий</span>
<span class="w" style="left:335.1px;top:493.5px">шланг;</span>
<span class="w" style="left:384.1px;top:493.5px">9–штурвал;</span>
<span class="w" style="left:459.6px;top:493.5px">10–шток;</span>
<span class="w" style="left:520.1px;top:493.5px">11–</span>
<span class="w" style="left:70.7px;top:511.5px">силовая камера; 12–плоская мембрана; 13–кран управления</span>
</body></html>
